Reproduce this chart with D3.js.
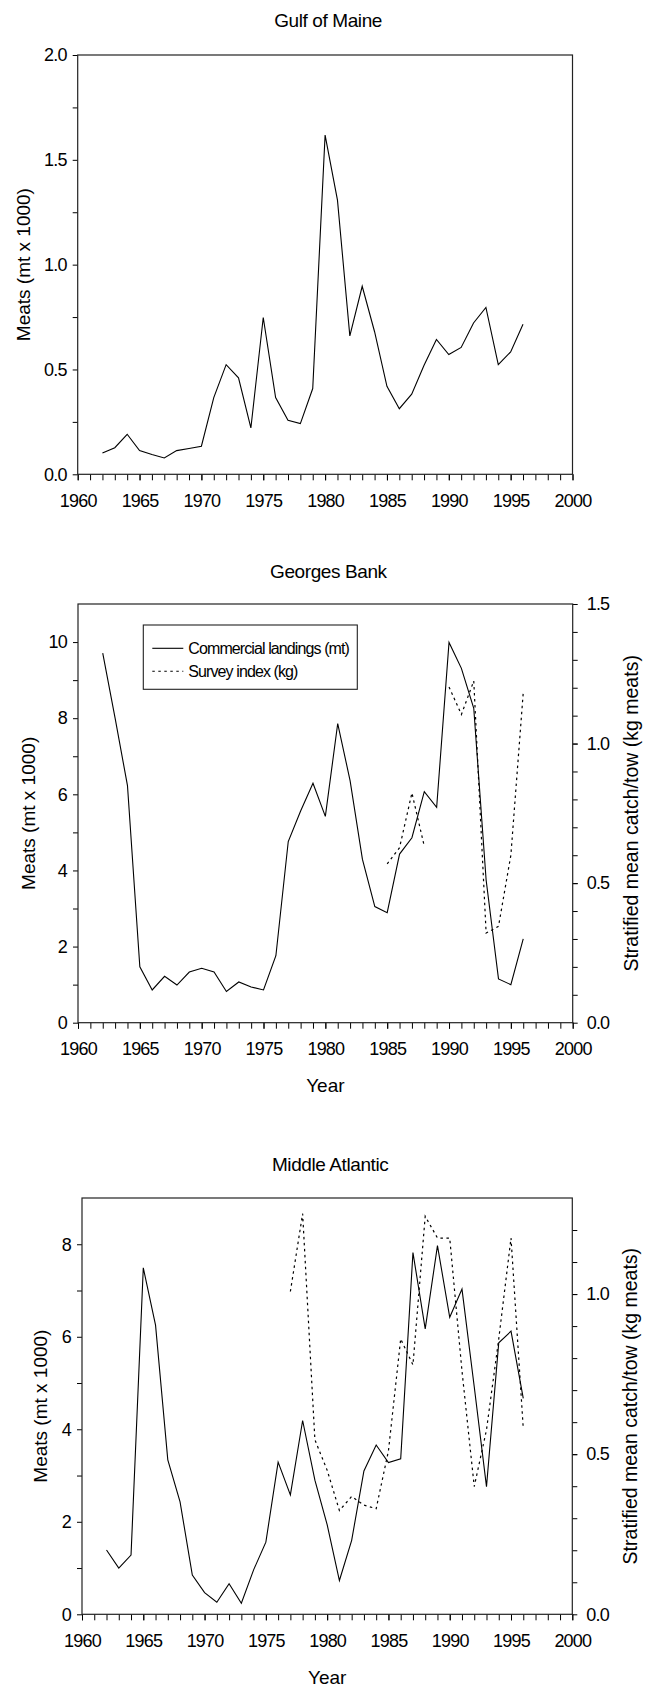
<!DOCTYPE html>
<html>
<head>
<meta charset="utf-8">
<script src="https://cdn.jsdelivr.net/npm/d3@7"></script>
<style>
  body { margin: 0; background: #fff; }
  svg text { font-family: "Liberation Sans", Arial, sans-serif; fill: #000; }
</style>
</head>
<body>
<script>
// landings and survey values
const years = [1962, 1963, 1964, 1965, 1966, 1967, 1968, 1969, 1970, 1971,
  1972, 1973, 1974, 1975, 1976, 1977, 1978, 1979, 1980, 1981,
  1982, 1983, 1984, 1985, 1986, 1987, 1988, 1989, 1990, 1991,
  1992, 1993, 1994, 1995, 1996];

const gomLandings = [0.102, 0.127, 0.191, 0.113, 0.094, 0.078, 0.113, 0.123, 0.134, 0.366,
  0.523, 0.460, 0.221, 0.748, 0.366, 0.258, 0.242, 0.409, 1.618, 1.308,
  0.660, 0.897, 0.68, 0.42, 0.313, 0.382, 0.52, 0.643, 0.571, 0.605,
  0.722, 0.796, 0.523, 0.584, 0.716];

const gbLandings = [9.71, 8.0, 6.23, 1.47, 0.86, 1.22, 0.99, 1.33, 1.43, 1.33,
  0.82, 1.07, 0.94, 0.86, 1.76, 4.76, 5.56, 6.29, 5.42, 7.86,
  6.36, 4.29, 3.05, 2.89, 4.43, 4.86, 6.07, 5.66, 9.99, 9.31,
  8.26, 3.75, 1.15, 1.00, 2.20];

const gbSurveyYears = [1985, 1986, 1987, 1988, 1989, 1990, 1991, 1992, 1993, 1994, 1995, 1996];
const gbSurvey = [0.569, 0.627, 0.823, 0.632, null, 1.203, 1.104, 1.224, 0.321, 0.345, 0.60, 1.182];

const maLandings = [1.39, 1.00, 1.28, 7.49, 6.25, 3.34, 2.43, 0.85, 0.47, 0.26,
  0.66, 0.24, 0.96, 1.56, 3.29, 2.58, 4.19, 2.90, 1.94, 0.73,
  1.60, 3.10, 3.66, 3.28, 3.36, 7.82, 6.17, 7.97, 6.42, 7.03,
  4.92, 2.76, 5.87, 6.12, 4.67];

const maSurveyYears = [1977, 1978, 1979, 1980, 1981, 1982, 1983, 1984, 1985, 1986,
  1987, 1988, 1989, 1990, 1991, 1992, 1993, 1994, 1995, 1996];
const maSurvey = [1.008, 1.251, 0.545, 0.45, 0.324, 0.368, 0.341, 0.330, 0.51, 0.86,
  0.779, 1.243, 1.175, 1.175, 0.76, 0.399, 0.576, 0.86, 1.175, 0.58];

const yearTicks = [1960, 1965, 1970, 1975, 1980, 1985, 1990, 1995, 2000];
const legendLabels = ["Commercial landings (mt)", "Survey index (kg)"];

const W = 646, H = 1691;
const svg = d3.select("body").append("svg")
  .attr("width", W)
  .attr("height", H);

const dotted = "2.5,3.5";

// tick label look: a bit tall, a bit narrow
function tickText(sel) {
  sel.style("font-size", "18px").style("letter-spacing", "-0.8px");
}

function drawPanel(p) {
  const g = svg.append("g");
  const x = d3.scaleLinear().domain([1960, 2000]).range([p.left, p.right]);
  const y = d3.scaleLinear().domain(p.yDomain).range([p.bottom, p.top]);

  // minor ticks first, then labelled ones
  g.append("g")
    .attr("transform", `translate(0,${p.bottom})`)
    .call(d3.axisBottom(x).tickValues(d3.range(1960, 2001)).tickSize(6).tickFormat(""))
    .call(a => a.select(".domain").remove());
  g.append("g")
    .attr("transform", `translate(0,${p.bottom})`)
    .call(d3.axisBottom(x).tickValues(yearTicks).tickSize(6).tickPadding(14).tickFormat(d3.format("d")))
    .call(a => a.select(".domain").remove())
    .selectAll("text").call(tickText);

  g.append("g")
    .attr("transform", `translate(${p.left},0)`)
    .call(d3.axisLeft(y).tickValues(p.yMinor).tickSize(5).tickFormat(""))
    .call(a => a.select(".domain").remove());
  g.append("g")
    .attr("transform", `translate(${p.left},0)`)
    .call(d3.axisLeft(y).tickValues(p.yTicks).tickSize(5).tickPadding(6).tickFormat(d3.format(p.yFormat)))
    .call(a => a.select(".domain").remove())
    .selectAll("text").call(tickText);

  let y2 = null;
  if (p.y2Domain) {
    y2 = d3.scaleLinear().domain(p.y2Domain).range([p.bottom, p.top]);
    g.append("g")
      .attr("transform", `translate(${p.right},0)`)
      .call(d3.axisRight(y2).tickValues(p.y2Minor).tickSize(5).tickFormat(""))
      .call(a => a.select(".domain").remove());
    g.append("g")
      .attr("transform", `translate(${p.right},0)`)
      .call(d3.axisRight(y2).tickValues([0, 0.5, 1.0, 1.5].filter(v => v <= p.y2Domain[1])).tickSize(5).tickPadding(9).tickFormat(d3.format(".1f")))
      .call(a => a.select(".domain").remove())
      .selectAll("text").call(tickText);

    g.append("text")
      .attr("transform", `translate(${p.y2TitleX},${(p.top + p.bottom) / 2}) rotate(-90)`)
      .attr("text-anchor", "middle")
      .style("font-size", "19.5px")
      .text("Stratified mean catch/tow (kg meats)");
  }

  g.selectAll(".tick line").attr("stroke", "#000");

  // frame
  g.append("rect")
    .attr("x", p.left).attr("y", p.top)
    .attr("width", p.right - p.left).attr("height", p.bottom - p.top)
    .attr("fill", "none").attr("stroke", "#222").attr("stroke-width", 1.2);

  g.append("text")
    .attr("x", (p.left + p.right) / 2 + 3).attr("y", p.titleY)
    .attr("text-anchor", "middle")
    .style("font-size", "19px")
    .style("letter-spacing", "-0.4px")
    .text(p.title);

  g.append("text")
    .attr("transform", `translate(${p.yTitleX},${(p.top + p.bottom) / 2}) rotate(-90)`)
    .attr("text-anchor", "middle")
    .style("font-size", "19px")
    .text("Meats (mt x 1000)");

  if (p.yearY) {
    g.append("text")
      .attr("x", (p.left + p.right) / 2).attr("y", p.yearY)
      .attr("text-anchor", "middle")
      .style("font-size", "19px")
      .text("Year");
  }

  const line = d3.line()
    .defined(d => d[1] != null)
    .x(d => x(d[0]))
    .y(d => y(d[1]));

  g.append("path")
    .datum(years.map((yr, i) => [yr, p.landings[i]]))
    .attr("fill", "none").attr("stroke", "#000").attr("stroke-width", 1.1)
    .attr("d", line);

  if (p.survey) {
    const line2 = d3.line()
      .defined(d => d[1] != null)
      .x(d => x(d[0]))
      .y(d => y2(d[1]));
    g.append("path")
      .datum(p.surveyYears.map((yr, i) => [yr, p.survey[i]]))
      .attr("fill", "none").attr("stroke", "#000").attr("stroke-width", 1.2)
      .attr("stroke-dasharray", dotted)
      .attr("d", line2);
  }
  return g;
}

drawPanel({
  title: "Gulf of Maine", titleY: 27,
  left: 77.7, right: 572.5, top: 55, bottom: 474.3,
  yDomain: [0, 2], yTicks: [0, 0.5, 1, 1.5, 2], yMinor: [0.25, 0.75, 1.25, 1.75], yFormat: ".1f",
  yTitleX: 30,
  landings: gomLandings
});

const gb = drawPanel({
  title: "Georges Bank", titleY: 577.5, yearY: 1092,
  left: 78, right: 572.7, top: 604, bottom: 1022.7,
  yDomain: [0, 11], yTicks: [0, 2, 4, 6, 8, 10], yMinor: [1, 3, 5, 7, 9], yFormat: "d",
  y2Domain: [0, 1.5], y2Minor: d3.range(1, 15).map(i => i / 10),
  yTitleX: 35, y2TitleX: 638,
  landings: gbLandings, surveyYears: gbSurveyYears, survey: gbSurvey
});

drawPanel({
  title: "Middle Atlantic", titleY: 1171, yearY: 1684,
  left: 82, right: 572.3, top: 1198, bottom: 1614.3,
  yDomain: [0, 9], yTicks: [0, 2, 4, 6, 8], yMinor: [1, 3, 5, 7], yFormat: "d",
  y2Domain: [0, 1.3], y2Minor: d3.range(1, 13).map(i => i / 10),
  yTitleX: 47, y2TitleX: 637,
  landings: maLandings, surveyYears: maSurveyYears, survey: maSurvey
});

// legend in Georges Bank panel
const leg = gb.append("g");
leg.append("rect")
  .attr("x", 143.3).attr("y", 625)
  .attr("width", 214).attr("height", 64.3)
  .attr("fill", "#fff").attr("stroke", "#222").attr("stroke-width", 1.1);
legendLabels.forEach((lab, i) => {
  const ly = 648.3 + i * 23;
  leg.append("line")
    .attr("x1", 152.3).attr("x2", 183.3)
    .attr("y1", ly).attr("y2", ly)
    .attr("stroke", "#000").attr("stroke-width", 1.1)
    .attr("stroke-dasharray", i === 1 ? dotted : null);
  leg.append("text")
    .attr("x", 188.3).attr("y", ly + 5.7)
    .style("font-size", "16px")
    .style("letter-spacing", "-0.9px")
    .text(lab);
});
</script>
</body>
</html>
